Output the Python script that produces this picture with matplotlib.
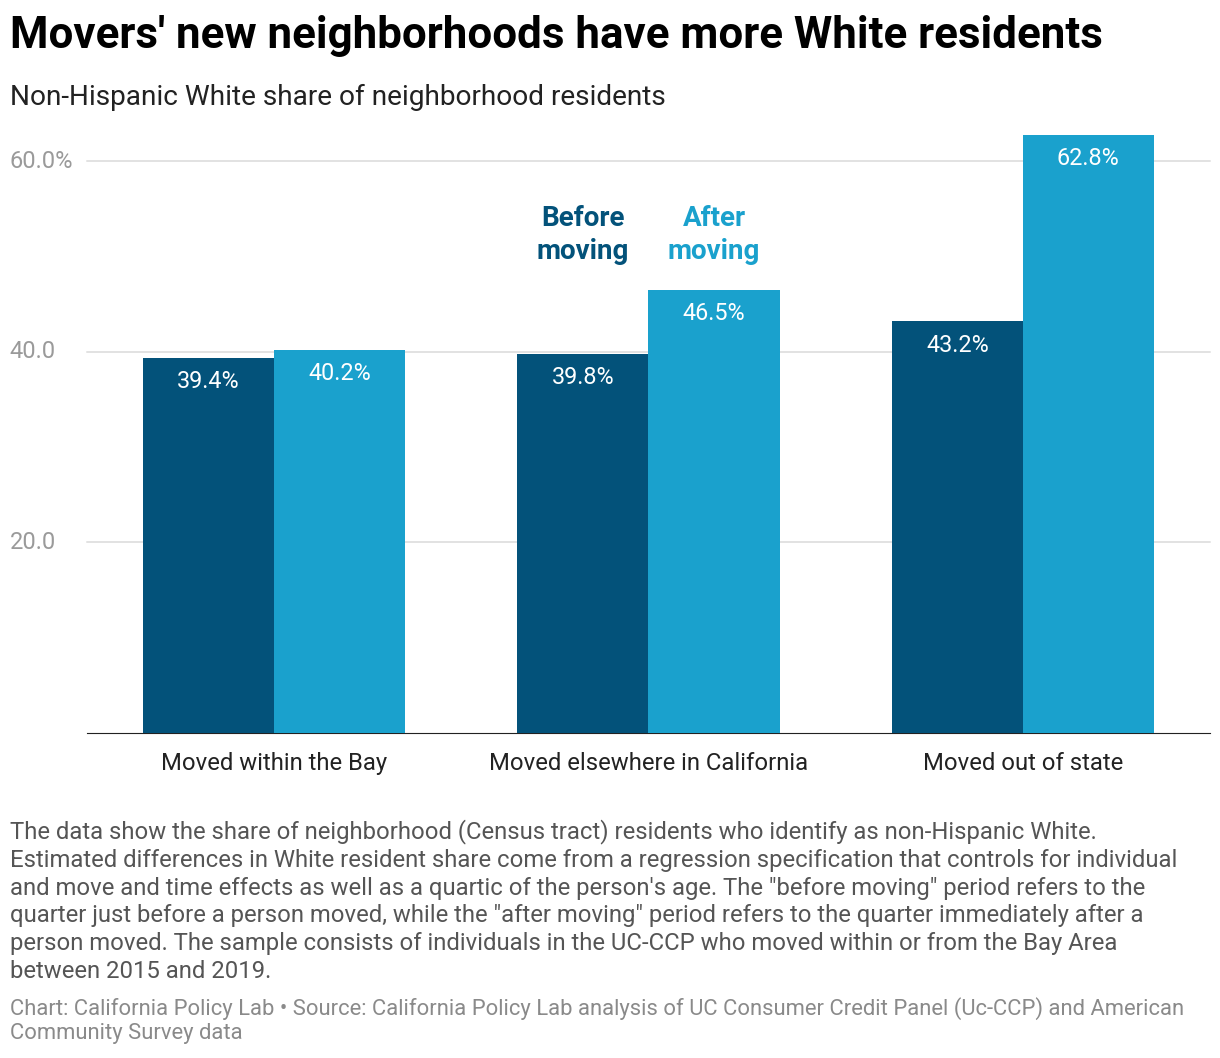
import matplotlib.pyplot as plt
import matplotlib.transforms as mtransforms

plt.rcParams['font.family'] = ['Roboto', 'DejaVu Sans']

categories = ['Moved within the Bay', 'Moved elsewhere in California', 'Moved out of state']
before = [39.4, 39.8, 43.2]
after = [40.2, 46.5, 62.8]
yticks = [20, 40, 60]
ytick_labels = ['20.0', '40.0', '60.0%']

dark = '#03527a'
light = '#1aa1cd'

fig = plt.figure(figsize=(12.2, 10.58), dpi=100)
ax = fig.add_axes([0.0713, 0.3072, 0.9205, 0.5699])

w = 0.35
x = range(len(categories))
ax.bar([i - w / 2 for i in x], before, w, color=dark, zorder=3)
ax.bar([i + w / 2 for i in x], after, w, color=light, zorder=3)
for i in x:
    ax.text(i - w / 2, before[i] - 2.5, f'{before[i]}%', color='white', ha='center', va='center', fontsize=16.8, zorder=4)
    ax.text(i + w / 2, after[i] - 2.5, f'{after[i]}%', color='white', ha='center', va='center', fontsize=16.8, zorder=4)

for dx, word, col in [(-w / 2, 'Before', dark), (w / 2, 'After', light)]:
    ax.text(1 + dx, 54.0, word, color=col, ha='center', va='center', fontsize=20, fontweight='bold')
    ax.text(1 + dx, 50.5, 'moving', color=col, ha='center', va='center', fontsize=20, fontweight='bold')

ax.set_xlim(-0.5, 2.5)
ax.set_ylim(0, 63.3)
ax.set_yticks(yticks)
ax.set_yticklabels([])
ax.tick_params(left=False, bottom=False, labelsize=17.2, pad=10)
ax.set_xticks(list(x))
ax.set_xticklabels(categories, color='#222222')
ax.grid(axis='y', color='#e2e2e2', lw=1.2, zorder=0)
for s in ['top', 'right', 'left']:
    ax.spines[s].set_visible(False)
ax.spines['bottom'].set_color('#222222')

trans = mtransforms.blended_transform_factory(fig.transFigure, ax.transData)
for v, lab in zip(yticks, ytick_labels):
    fig.text(0.008, v, lab, transform=trans, ha='left', va='center', fontsize=17, color='#9a9a9a')
    ax.plot([-0.5, 2.5], [v, v], color='#e2e2e2', lw=1.2, zorder=1, clip_on=False)

fig.text(0.008, 0.966, "Movers' new neighborhoods have more White residents", fontsize=31.6, fontweight='bold', va='center')
fig.text(0.008, 0.908, 'Non-Hispanic White share of neighborhood residents', fontsize=20.2, color='#222222', va='center')

note = ('The data show the share of neighborhood (Census tract) residents who identify as non-Hispanic White.\n'
        'Estimated differences in White resident share come from a regression specification that controls for individual\n'
        "and move and time effects as well as a quartic of the person's age. The \"before moving\" period refers to the\n"
        'quarter just before a person moved, while the "after moving" period refers to the quarter immediately after a\n'
        'person moved. The sample consists of individuals in the UC-CCP who moved within or from the Bay Area\n'
        'between 2015 and 2019.')
fig.text(0.008, 0.226, note, fontsize=17.2, color='#555555', va='top', linespacing=1.27)
fig.text(0.008, 0.058, 'Chart: California Policy Lab • Source: California Policy Lab analysis of UC Consumer Credit Panel (Uc-CCP) and American\nCommunity Survey data',
         fontsize=15.8, color='#8a8a8a', va='top', linespacing=1.22)

fig.savefig('out.png', dpi=100)
